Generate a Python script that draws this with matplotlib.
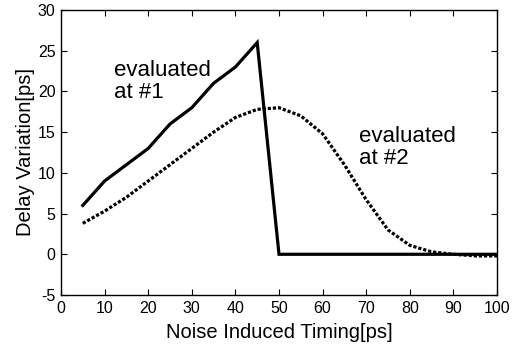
import matplotlib
matplotlib.use('Agg')
import matplotlib.pyplot as plt

plt.rcParams['font.family'] = ['Liberation Sans', 'DejaVu Sans']
plt.rcParams['axes.unicode_minus'] = False

# timing points [ps]
timing = [5, 10, 15, 20, 25, 30, 35, 40, 45, 50, 55, 60, 65, 70, 75, 80, 85, 90, 95, 100]
# delay variation evaluated at #1 (solid)
delay_1 = [6, 9, 11, 13, 16, 18, 21, 23, 26, 0, 0, 0, 0, 0, 0, 0, 0, 0, 0, 0]
# delay variation evaluated at #2 (dotted)
delay_2 = [3.8, 5.3, 7.0, 9.0, 11.0, 13.0, 15.0, 16.8, 17.8, 18.0,
           17.0, 14.8, 11.0, 6.7, 3.0, 1.1, 0.3, 0.0, -0.2, -0.2]

fig = plt.figure(figsize=(5.18, 3.5), dpi=100)
ax = fig.add_axes([61/518, 55/350, 436/518, 285/350])

ax.plot(timing, delay_1, color='black', lw=2.3, solid_joinstyle='miter')
ax.plot(timing, delay_2, color='black', lw=2.3, linestyle=(0, (1, 0.6)))

ax.set_xlim(0, 100)
ax.set_ylim(-5, 30)
ax.set_xticks(range(0, 101, 10))
ax.set_yticks(range(-5, 31, 5))
ax.tick_params(direction='in', top=True, right=True, labelsize=11.5, length=4, pad=4)
for s in ax.spines.values():
    s.set_linewidth(1.0)

ax.set_xlabel('Noise Induced Timing[ps]', fontsize=14.5, labelpad=5)
ax.set_ylabel('Delay Variation[ps]', fontsize=14.5, labelpad=2)

ax.text(12.2, 23.8, 'evaluated\nat #1', fontsize=16, va='top', ha='left', linespacing=1.05)
ax.text(68.3, 15.7, 'evaluated\nat #2', fontsize=16, va='top', ha='left', linespacing=1.05)

fig.savefig('out.png', dpi=100)
